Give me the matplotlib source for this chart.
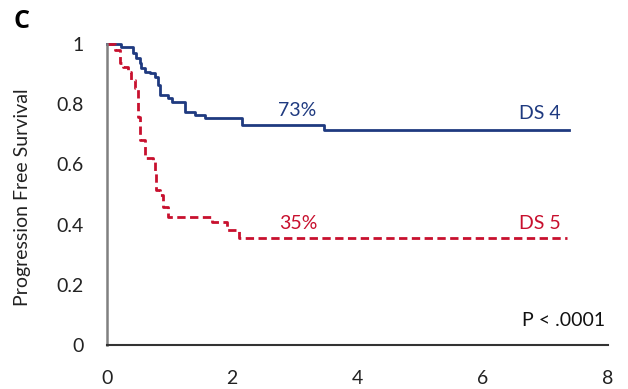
import numpy as np
import matplotlib
matplotlib.use("Agg")
import matplotlib.pyplot as plt

plt.rcParams['font.family'] = ['Lato', 'DejaVu Sans']

# Kaplan-Meier steps (years, survival)
ds4_time = [0, 0.23, 0.42, 0.46, 0.52, 0.54, 0.61, 0.69, 0.77, 0.82, 0.85, 0.98,
            1.03, 1.25, 1.41, 1.57, 2.15, 3.46, 7.37]
ds4_surv = [1.0, 0.99, 0.97, 0.953, 0.936, 0.919, 0.908, 0.903, 0.891, 0.864, 0.83, 0.82,
            0.808, 0.775, 0.764, 0.753, 0.731, 0.714, 0.714]

ds5_time = [0, 0.13, 0.21, 0.26, 0.34, 0.39, 0.45, 0.50, 0.53, 0.61, 0.74, 0.77,
            0.79, 0.85, 0.90, 0.98, 1.67, 1.91, 2.10, 7.34]
ds5_surv = [1.0, 0.98, 0.936, 0.925, 0.908, 0.88, 0.853, 0.758, 0.681, 0.62, 0.615, 0.57,
            0.515, 0.498, 0.46, 0.426, 0.41, 0.382, 0.354, 0.354]

x_ticks = [0, 2, 4, 6, 8]
y_ticks = [0, 0.2, 0.4, 0.6, 0.8, 1]
y_tick_labels = ["0", "0.2", "0.4", "0.6", "0.8", "1"]

blue = "#1f3a80"
red = "#c8102e"

fig = plt.figure(figsize=(6.28, 3.89), dpi=100)
ax = fig.add_axes([107/628, 1 - 345/389, 501/628, 301/389])

ax.step(ds4_time, ds4_surv, where="post", color=blue, lw=2.0, clip_on=False)
ax.step(ds5_time, ds5_surv, where="post", color=red, lw=2.0, ls=(0, (3, 1.6)),
        clip_on=False)

ax.set_xlim(0, 8)
ax.set_ylim(0, 1)
ax.set_xticks(x_ticks)
ax.set_yticks(y_ticks)
ax.set_yticklabels(y_tick_labels)
ax.tick_params(length=0, labelsize=14, colors="#222222")
ax.tick_params(axis="x", pad=18)
ax.tick_params(axis="y", pad=17)

for s in ["top", "right"]:
    ax.spines[s].set_visible(False)
ax.spines["left"].set_color("#808080")
ax.spines["left"].set_linewidth(1.8)
ax.spines["bottom"].set_color("#333333")
ax.spines["bottom"].set_linewidth(1.5)

ax.text(3.03, 0.78, "73%", color=blue, fontsize=14, ha="center", va="center")
ax.text(3.05, 0.405, "35%", color=red, fontsize=14, ha="center", va="center")
ax.text(7.24, 0.77, "DS 4", color=blue, fontsize=14, ha="right", va="center")
ax.text(7.24, 0.405, "DS 5", color=red, fontsize=14, ha="right", va="center")
ax.text(7.96, 0.083, "P < .0001", color="#111111", fontsize=14, ha="right", va="center")

fig.text(23/628, 1 - 197/389, "Progression Free Survival", rotation=90,
         ha="center", va="center", fontsize=14, color="#222222")
fig.text(14/628, 1 - 28/389, "C", fontsize=18, fontweight="bold", ha="left",
         va="baseline", family=["Open Sans", "DejaVu Sans"])

fig.savefig("out.png", dpi=100)
